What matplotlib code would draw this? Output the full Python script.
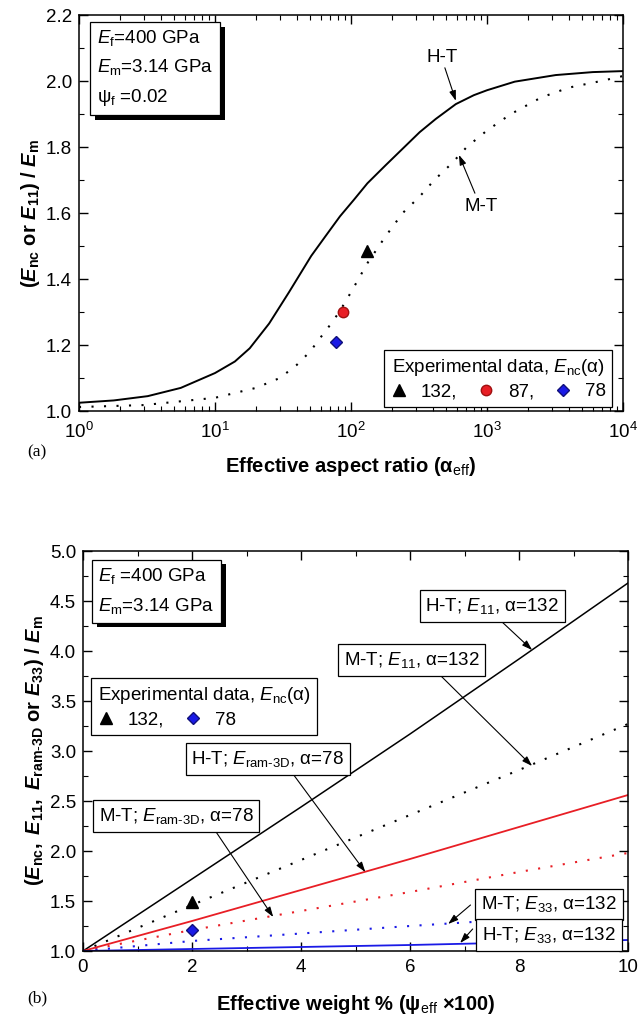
import numpy as np
import matplotlib
matplotlib.use("Agg")
import matplotlib.pyplot as plt
import matplotlib.patheffects as pe

plt.rcParams['font.family'] = ['Liberation Sans', 'DejaVu Sans']
plt.rcParams['mathtext.fontset'] = 'custom'
plt.rcParams['mathtext.rm'] = 'Liberation Sans'
plt.rcParams['mathtext.it'] = 'Liberation Sans:italic'
plt.rcParams['mathtext.bf'] = 'Liberation Sans:bold'
plt.rcParams['mathtext.bfit'] = 'Liberation Sans:bold:italic'

# ---- panel (a) data: modulus ratio vs effective aspect ratio
ht_alpha = [1, 1.8, 3.2, 5.6, 10, 14, 18, 25, 35, 51, 65, 83, 105, 132, 180,
            240, 320, 420, 590, 800, 1000, 1600, 3200, 6000, 10000]
ht_ratio = [1.025, 1.032, 1.045, 1.07, 1.115, 1.15, 1.19, 1.265, 1.36, 1.47,
            1.53, 1.59, 1.64, 1.69, 1.745, 1.795, 1.845, 1.885, 1.93, 1.957,
            1.972, 1.998, 2.018, 2.027, 2.03]
mt_alpha = [1, 3, 10, 20, 30, 40, 50, 59, 70, 82, 100, 133, 180, 240, 320,
            410, 550, 710, 1000, 1500, 2500, 4000, 6900, 10000]
mt_ratio = [1.012, 1.018, 1.04, 1.07, 1.10, 1.14, 1.18, 1.22, 1.26, 1.30,
            1.36, 1.45, 1.53, 1.60, 1.65, 1.70, 1.75, 1.80, 1.85, 1.90, 1.95,
            1.98, 2.00, 2.015]
exp_alpha = [132, 87, 78]
exp_ratio = [1.485, 1.30, 1.21]
exp_labels = ['132,', '87,', '78']

# ---- panel (b) data: modulus ratio vs effective weight %
wt = [0, 2, 4, 6, 8, 10]
ht_e11 = [1.0, 1.72, 2.44, 3.17, 3.92, 4.68]
mt_e11 = [1.0, 1.46, 1.91, 2.36, 2.81, 3.27]
ht_ram = [1.0, 1.30, 1.61, 1.92, 2.24, 2.56]
mt_ram = [1.0, 1.21, 1.40, 1.59, 1.79, 1.98]
mt_e33 = [1.0, 1.10, 1.175, 1.25, 1.32, 1.39]
ht_e33 = [1.0, 1.02, 1.04, 1.06, 1.085, 1.11]
exp_wt = [2, 2]
exp_b = [1.49, 1.21]
exp_b_labels = ['132,', '78']

dot = (0, (1, 5))
red = '#e81e25'
blue = '#1a1ae6'
fs = 13.5
lfs = 14.5

fig = plt.figure(figsize=(6.4, 10.19), dpi=100)
ax1 = fig.add_axes([79/640, 1-411/1019, 544/640, 396/1019])
ax2 = fig.add_axes([83/640, 1-951/1019, 545/640, 400/1019])


def style(ax):
    ax.tick_params(which='both', direction='in', top=True, right=True,
                   labelsize=fs)
    ax.tick_params(which='major', length=6.5, width=1)
    ax.tick_params(which='minor', length=3.5, width=0.8)
    ax.tick_params(axis='y', which='major', pad=5)
    ax.tick_params(axis='x', which='major', pad=6)
    for s in ax.spines.values():
        s.set_linewidth(1.1)


def shadow_box(ax, x, y, txt, offset=(3.5, -3.5)):
    t = ax.text(x, y, txt, transform=ax.transAxes, ha='left', va='top',
                fontsize=fs, linespacing=1.65,
                bbox=dict(boxstyle='square,pad=0.35', fc='w', ec='k', lw=0.9))
    t.get_bbox_patch().set_path_effects([
        pe.SimplePatchShadow(offset=offset, shadow_rgbFace='k', alpha=1.0),
        pe.Normal()])
    return t


# ================= panel (a) =================
ax1.plot(ht_alpha, ht_ratio, color='k', lw=1.4)
ax1.plot(mt_alpha, mt_ratio, color='k', lw=1.5, ls=dot)
h1, = ax1.plot(exp_alpha[0], exp_ratio[0], ls='none', marker='^', ms=8,
               color='k')
h2, = ax1.plot(exp_alpha[1], exp_ratio[1], ls='none', marker='o', ms=7.5,
               mfc=red, mec='#a01010')
h3, = ax1.plot(exp_alpha[2], exp_ratio[2], ls='none', marker='D', ms=6.5,
               mfc=blue, mec='#10107a')
ax1.set_xscale('log')
ax1.set_xlim(1, 1e4)
ax1.set_ylim(1.0, 2.2)
ax1.set_yticks(np.arange(1.0, 2.21, 0.2))
ax1.set_yticks(np.arange(1.1, 2.2, 0.2), minor=True)
ax1.yaxis.set_major_formatter(matplotlib.ticker.FormatStrFormatter('%.1f'))
style(ax1)
ax1.tick_params(axis='x', which='major', pad=8)

leg = ax1.legend([h1, h2, h3], exp_labels, ncol=3, loc='lower right',
                 bbox_to_anchor=(0.98, 0.01), borderaxespad=0,
                 title='Experimental data, $E_{\\mathrm{nc}}$(\u03b1)',
                 fontsize=fs, title_fontsize=fs, frameon=True, fancybox=False,
                 edgecolor='k', framealpha=1, handlelength=0.9,
                 handletextpad=0.7, columnspacing=1.1, borderpad=0.35,
                 labelspacing=0.3)
leg.get_frame().set_linewidth(0.9)

shadow_box(ax1, 0.033, 0.968,
           '$E_{\\mathrm{f}}$=400 GPa\n$E_{\\mathrm{m}}$=3.14 GPa\n'
           '\u03c8$_{\\mathrm{f}}$ =0.02')

arw = dict(arrowstyle='-|>,head_length=0.6,head_width=0.2', color='k',
           lw=0.8, shrinkA=0, shrinkB=0)
ax1.text(470, 2.07, 'H-T', fontsize=fs, ha='center', va='center')
ax1.annotate('', xy=(590, 1.94), xytext=(490, 2.04), arrowprops=arw)
ax1.text(900, 1.62, 'M-T', fontsize=fs, ha='center', va='center')
ax1.annotate('', xy=(622, 1.776), xytext=(815, 1.66), arrowprops=arw)

ax1.set_xlabel('Effective aspect ratio (\u03b1$_{\\mathrm{eff}}$)',
               fontsize=lfs, fontweight='bold', labelpad=9)
ax1.set_ylabel(r'$\mathbf{(}\mathbfit{E}_{\mathbf{nc}}\mathbf{\ or\ }'
               r'\mathbfit{E}_{\mathbf{11}}\mathbf{)\ /\ }'
               r'\mathbfit{E}_{\mathbf{m}}$', fontsize=lfs, labelpad=3)
fig.text(37/640, 1-452/1019, '(a)', fontsize=12.5, family='Liberation Serif',
         ha='center', va='center')

# ================= panel (b) =================
ax2.plot(wt, ht_e11, color='k', lw=1.1)
ax2.plot(wt, mt_e11, color='k', lw=1.5, ls=dot)
ax2.plot(wt, ht_ram, color=red, lw=1.3)
ax2.plot(wt, mt_ram, color=red, lw=1.5, ls=dot)
ax2.plot(wt, mt_e33, color=blue, lw=1.5, ls=dot)
ax2.plot(wt, ht_e33, color=blue, lw=1.3)
g1, = ax2.plot(exp_wt[0], exp_b[0], ls='none', marker='^', ms=8, color='k')
g2, = ax2.plot(exp_wt[1], exp_b[1], ls='none', marker='D', ms=6.5,
               mfc=blue, mec='#10107a')
ax2.set_xlim(0, 10)
ax2.set_ylim(1.0, 5.0)
ax2.set_xticks(np.arange(0, 11, 2))
ax2.set_xticks(np.arange(1, 10, 2), minor=True)
ax2.set_yticks(np.arange(1.0, 5.01, 0.5))
ax2.set_yticks(np.arange(1.25, 5.0, 0.5), minor=True)
ax2.yaxis.set_major_formatter(matplotlib.ticker.FormatStrFormatter('%.1f'))
style(ax2)

leg2 = ax2.legend([g1, g2], exp_b_labels, ncol=2, loc='upper left',
                  bbox_to_anchor=(0.015, 0.682), borderaxespad=0,
                  title='Experimental data, $E_{\\mathrm{nc}}$(\u03b1)',
                  fontsize=fs, title_fontsize=fs, frameon=True,
                  fancybox=False, edgecolor='k', framealpha=1,
                  handlelength=0.9, handletextpad=0.7, columnspacing=1.1,
                  borderpad=0.35, labelspacing=0.3)
leg2._legend_box.align = 'left'
leg2.get_frame().set_linewidth(0.9)

shadow_box(ax2, 0.028, 0.962,
           '$E_{\\mathrm{f}}$ =400 GPa\n$E_{\\mathrm{m}}$=3.14 GPa')

ram = r'$E_{\mathrm{ram}\text{-}\mathrm{3D}}$'
labels_b = [
    ('H-T; $E_{11}$, \u03b1=132', (7.51, 4.45), (7.67, 4.30), (8.24, 4.01)),
    ('M-T; $E_{11}$, \u03b1=132', (6.03, 3.91), (6.55, 3.76), (8.24, 2.85)),
    ('H-T; ' + ram + ', \u03b1=78', (3.39, 2.92), (3.84, 2.78), (5.18, 1.79)),
    ('M-T; ' + ram + ', \u03b1=78', (1.71, 2.35), (2.43, 2.20), (3.49, 1.34)),
    ('M-T; $E_{33}$, \u03b1=132', (8.55, 1.465), (7.11, 1.46), (6.70, 1.27)),
    ('H-T; $E_{33}$, \u03b1=132', (8.55, 1.16), (7.15, 1.22), (6.92, 1.08)),
]
for txt, pos, start, tip in labels_b:
    ax2.annotate('', xy=tip, xytext=start, arrowprops=arw, zorder=4)
    ax2.text(pos[0], pos[1], txt, fontsize=fs, ha='center', va='center',
             zorder=5,
             bbox=dict(boxstyle='square,pad=0.3', fc='w', ec='k', lw=0.9))

ax2.set_xlabel('Effective weight % (\u03c8$_{\\mathrm{eff}}$ \u00d7100)',
               fontsize=lfs, fontweight='bold', labelpad=12)
ax2.set_ylabel(r'$\mathbf{(}\mathbfit{E}_{\mathbf{nc}}\mathbf{,\ }'
               r'\mathbfit{E}_{\mathbf{11}}\mathbf{,\ }'
               r'\mathbfit{E}_{\mathbf{ram\text{-}3D}}\mathbf{\ or\ }'
               r'\mathbfit{E}_{\mathbf{33}}\mathbf{)\ /\ }'
               r'\mathbfit{E}_{\mathbf{m}}$', fontsize=lfs, labelpad=3)
fig.text(37/640, 1-998/1019, '(b)', fontsize=12.5, family='Liberation Serif',
         ha='center', va='center')

fig.savefig('out.png', dpi=100)
